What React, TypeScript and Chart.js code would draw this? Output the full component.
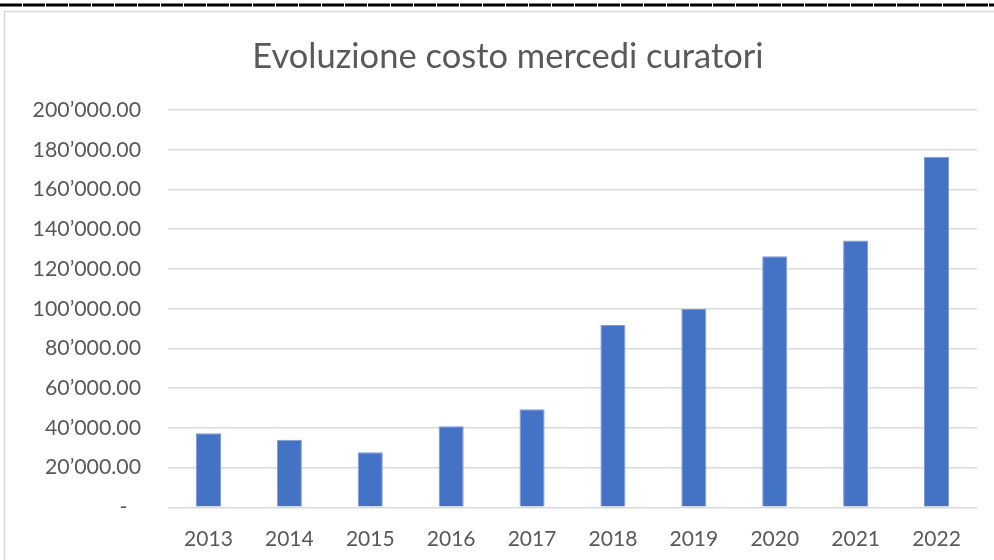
import React, { useEffect, useRef } from "react";
import { Chart, registerables } from "chart.js";

Chart.register(...registerables);

const titleText = "Evoluzione costo mercedi curatori";
const categories = ["2013", "2014", "2015", "2016", "2017", "2018", "2019", "2020", "2021", "2022"];
const costValues = [37300, 34000, 27700, 40800, 49400, 91800, 99800, 126400, 134300, 176500];
const yMin = 0;
const yMax = 200000;
const yStep = 20000;

const FONT = "Lato, 'Open Sans', sans-serif";
const TEXT = "#595959";

function formatTick(v: number): string {
  if (v === 0) return "-  \u2009";
  const s = Math.round(v).toString().replace(/\B(?=(\d{3})+(?!\d))/g, "\u2019");
  return s + ".00";
}

const decorPlugin = {
  id: "decor",
  beforeDraw(chart: any) {
    const ctx = chart.ctx;
    ctx.save();
    ctx.fillStyle = "#ffffff";
    ctx.fillRect(0, 0, chart.width, chart.height);
    // frame
    ctx.strokeStyle = "#d9d9d9";
    ctx.lineWidth = 1.5;
    ctx.beginPath();
    ctx.moveTo(4.5, chart.height + 2);
    ctx.lineTo(4.5, 11.5);
    ctx.lineTo(chart.width + 2, 11.5);
    ctx.stroke();
    // top black rule
    ctx.strokeStyle = "#000000";
    ctx.lineWidth = 3;
    ctx.setLineDash([22, 1]);
    ctx.beginPath();
    ctx.moveTo(0, 5);
    ctx.lineTo(chart.width, 5);
    ctx.stroke();
    ctx.setLineDash([]);
    // title
    ctx.fillStyle = TEXT;
    ctx.font = `34.5px ${FONT}`;
    ctx.textAlign = "center";
    ctx.textBaseline = "middle";
    ctx.fillText(titleText, 508, 57);
    ctx.restore();
  },
};

export default function App() {
  const ref = useRef<HTMLCanvasElement | null>(null);
  useEffect(() => {
    if (!ref.current) return;
    const chart = new Chart(ref.current, {
      type: "bar",
      data: {
        labels: categories,
        datasets: [
          {
            data: costValues,
            backgroundColor: "#4472C4",
            borderColor: "#7d9ad6",
            borderWidth: 1,
            barPercentage: 0.31,
            categoryPercentage: 1,
          },
        ],
      },
      options: {
        responsive: false,
        animation: false,
        devicePixelRatio: 1,
        layout: { padding: { top: 110, right: 17, bottom: 0, left: 0 } },
        plugins: {
          legend: { display: false },
          title: { display: false },
          tooltip: { enabled: false },
        },
        scales: {
          x: {
            grid: { display: false, drawTicks: false },
            border: { display: false },
            ticks: { color: TEXT, font: { family: FONT, size: 21 }, padding: 19, maxRotation: 0 },
            afterFit(scale: any) {
              scale.height = 52.7;
            },
          },
          y: {
            min: yMin,
            max: yMax,
            grid: { color: "#d9d9d9", lineWidth: 1.5, drawTicks: false },
            border: { display: false },
            ticks: {
              stepSize: yStep,
              color: TEXT,
              font: { family: FONT, size: 21.3 },
              padding: 27,
              callback: (v: any) => formatTick(Number(v)),
            },
            afterFit(scale: any) {
              scale.width = 168;
            },
          },
        },
      },
      plugins: [decorPlugin],
    });
    return () => chart.destroy();
  }, []);
  return (
    <div style={{ position: "absolute", left: 0, top: 0, width: 994, height: 560 }}>
      <canvas ref={ref} width={994} height={560} style={{ display: "block" }} />
    </div>
  );
}
